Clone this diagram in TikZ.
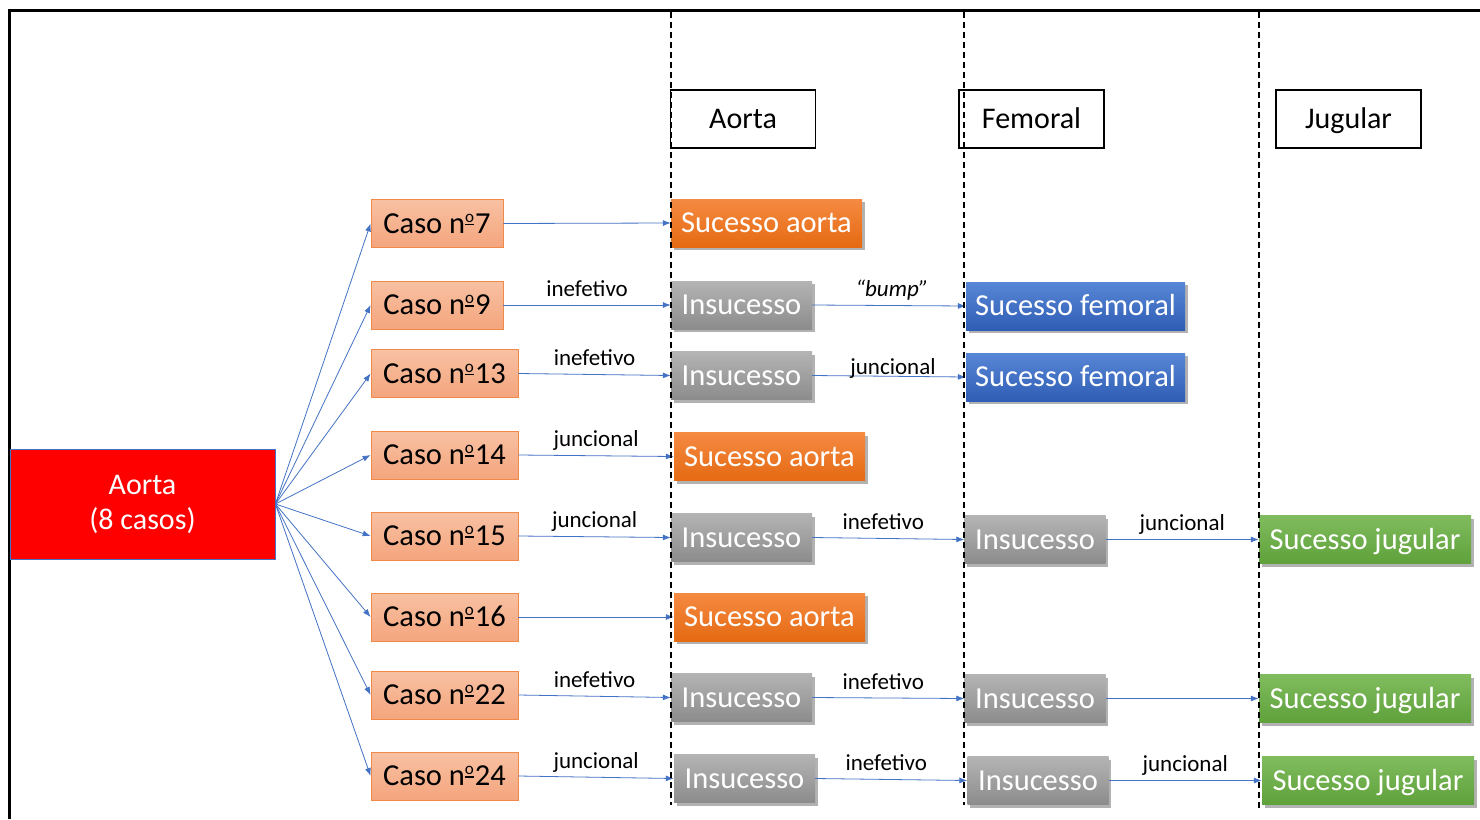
\documentclass[tikz,border=0pt]{standalone}
\usepackage{fontspec}
\setmainfont{Carlito}
\usetikzlibrary{shadows,arrows.meta}
\definecolor{arrowblue}{HTML}{4472C4}
\definecolor{caseT}{HTML}{F8C1A3}
\definecolor{caseB}{HTML}{F4A57D}
\definecolor{casebd}{HTML}{F08A4B}
\definecolor{orT}{HTML}{F58A42}
\definecolor{orB}{HTML}{E56A12}
\definecolor{grT}{HTML}{B4B4B4}
\definecolor{grB}{HTML}{8C8C8C}
\definecolor{blT}{HTML}{5887D6}
\definecolor{blB}{HTML}{2F5DB5}
\definecolor{gnT}{HTML}{80BC5E}
\definecolor{gnB}{HTML}{5FA13B}
\newcommand\ordo{\smash{\setbox0\hbox{\fontsize{17}{17}\selectfont o}\rlap{\raisebox{11pt}{\copy0}}\rule[8pt]{\wd0}{1.5pt}}\hspace{1pt}}
\begin{document}
\begin{tikzpicture}[x=1pt,y=-1pt,
  base/.style={minimum height=48pt, inner sep=0pt, text height=19.5pt, text depth=0pt, font=\fontsize{30.5}{34}\selectfont},
  casebox/.style={base, draw=casebd, line width=0.8pt, top color=caseT, bottom color=caseB, text=black},
  res/.style={base, text=white, drop shadow={shadow xshift=2.5pt, shadow yshift=-3pt, opacity=0.3, fill=black}},
  sabox/.style={res, top color=orT, bottom color=orB, minimum width=191pt},
  insbox/.style={res, top color=grT, bottom color=grB, minimum width=141pt},
  sfbox/.style={res, top color=blT, bottom color=blB, minimum width=219pt},
  sjbox/.style={res, top color=gnT, bottom color=gnB, minimum width=212pt},
  hdr/.style={draw=black, line width=1.2pt, fill=white, minimum width=145pt, minimum height=58pt, inner sep=0pt, text height=19.5pt, text depth=0pt, font=\fontsize{30}{34}\selectfont},
  arr/.style={draw=arrowblue, line width=0.8pt, -{Latex[length=8pt,width=6pt]}},
  lbl/.style={font=\fontsize{23}{26}\selectfont, anchor=base, yshift=9pt, inner sep=0pt, text=black},
  sep/.style={draw=black, line width=1.3pt, dash pattern=on 6pt off 4pt}
]
\useasboundingbox (0,0) rectangle (1480,819);
\fill[white] (0,0) rectangle (1480,819);
\draw[line width=2.5pt] (9.5,819) -- (9.5,10.5) -- (1480,10.5);

% main node
\node[draw=arrowblue, line width=0.8pt, fill=red, text=white, minimum width=265pt, minimum height=110pt, inner sep=0pt, align=center, font=\fontsize{30}{36}\selectfont] (ao) at (142.5,504) {\raisebox{-6pt}{Aorta}\\[-1pt]\raisebox{-6pt}{(8 casos)}};

% headers
\node[hdr] (hA) at (743,119) {Aorta};
\node[hdr] (hF) at (1031.5,119) {Femoral};
\node[hdr] (hJ) at (1348.5,119) {Jugular};

% cases
\node[casebox, minimum width=132pt] (c7) at (437,223.5) {Caso n\ordo7};
\node[casebox, minimum width=132pt] (c9) at (437,305) {Caso n\ordo9};
\node[casebox, minimum width=147pt] (c13) at (444.5,373.5) {Caso n\ordo13};
\node[casebox, minimum width=147pt] (c14) at (444.5,455) {Caso n\ordo14};
\node[casebox, minimum width=147pt] (c15) at (444.5,536) {Caso n\ordo15};
\node[casebox, minimum width=147pt] (c16) at (444.5,617) {Caso n\ordo16};
\node[casebox, minimum width=147pt] (c22) at (444.5,695) {Caso n\ordo22};
\node[casebox, minimum width=147pt] (c24) at (444.5,776) {Caso n\ordo24};

% aorta column
\node[sabox] (a7) at (766.5,223) {Sucesso aorta};
\node[insbox] (a9) at (741.5,305) {Insucesso};
\node[insbox] (a13) at (741.5,375.5) {Insucesso};
\node[sabox] (a14) at (769.5,456.5) {Sucesso aorta};
\node[insbox] (a15) at (741.5,537.5) {Insucesso};
\node[sabox] (a16) at (769.5,617) {Sucesso aorta};
\node[insbox] (a22) at (741.5,697.5) {Insucesso};
\node[insbox] (a24) at (744.5,778.5) {Insucesso};

% femoral column
\node[sfbox] (f9) at (1075.5,306) {Sucesso femoral};
\node[sfbox] (f13) at (1075.5,377) {Sucesso femoral};
\node[insbox] (f15) at (1035,539.5) {Insucesso};
\node[insbox] (f22) at (1035,698.5) {Insucesso};
\node[insbox] (f24) at (1038,780.5) {Insucesso};

% jugular column
\node[sjbox] (j15) at (1365,539.5) {Sucesso jugular};
\node[sjbox] (j22) at (1365,698.5) {Sucesso jugular};
\node[sjbox] (j24) at (1368,780.5) {Sucesso jugular};

% fan-out arrows
\foreach \c in {c7,c9,c13,c14,c15,c16,c22,c24}
  \draw[arr] (ao.east) -- (\c.west);

% row arrows
\draw[arr] (c7.east) -- (a7.west);
\draw[arr] (c9.east) -- node[lbl]{inefetivo} (a9.west);
\draw[arr] (a9.east) -- node[lbl, xshift=3pt]{\itshape “bump”} (f9.west);
\draw[arr] (c13.east) -- node[lbl]{inefetivo} (a13.west);
\draw[arr] (a13.east) -- node[lbl, yshift=-7pt, xshift=4pt]{juncional} (f13.west);
\draw[arr] (c14.east) -- node[lbl]{juncional} (a14.west);
\draw[arr] (c15.east) -- node[lbl]{juncional} (a15.west);
\draw[arr] (a15.east) -- node[lbl, xshift=-5pt]{inefetivo} (f15.west);
\draw[arr] (f15.east) -- node[lbl]{juncional} (j15.west);
\draw[arr] (c16.east) -- (a16.west);
\draw[arr] (c22.east) -- node[lbl]{inefetivo} (a22.west);
\draw[arr] (a22.east) -- node[lbl, xshift=-5pt]{inefetivo} (f22.west);
\draw[arr] (f22.east) -- (j22.west);
\draw[arr] (c24.east) -- node[lbl]{juncional} (a24.west);
\draw[arr] (a24.east) -- node[lbl, xshift=-5pt]{inefetivo} (f24.west);
\draw[arr] (f24.east) -- node[lbl]{juncional} (j24.west);

% column separators
\draw[sep] (671,12) -- (671,805);
\draw[sep] (964,12) -- (964,805);
\draw[sep] (1259,12) -- (1259,808);
\end{tikzpicture}
\end{document}
